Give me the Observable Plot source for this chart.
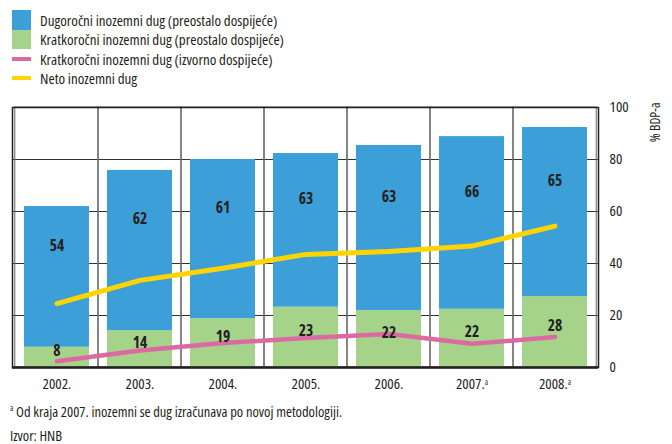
<!DOCTYPE html>
<html><head><meta charset="utf-8">
<script src="https://cdn.jsdelivr.net/npm/d3@7"></script>
<script src="https://cdn.jsdelivr.net/npm/@observablehq/plot@0.6"></script>
<style>
body{margin:0;background:#fff;}
#wrap{position:relative;width:672px;height:444px;overflow:hidden;font-family:"Open Sans",sans-serif;font-stretch:75%;color:#231f20;}
.legend{position:absolute;left:12px;top:10px;}
.row{display:flex;align-items:center;height:19.5px;font-size:15px;}
.sw{width:19px;height:19.5px;margin-right:9px;}
.ln{width:19px;height:4px;margin:0 9px 0 0;}
#plot{position:absolute;left:0;top:0;}
#plot svg text{font-stretch:75%;}
.note{position:absolute;left:10px;font-size:14.5px;}
.note sup{font-size:8px;vertical-align:6px;}
</style></head>
<body><div id="wrap">
<div class="legend" id="legend"></div>
<div id="plot"></div>
<div class="note" style="top:402px"><sup>a</sup> Od kraja 2007. inozemni se dug izračunava po novoj metodologiji.</div>
<div class="note" style="top:426px">Izvor: HNB</div>
</div>
<script>
const years = ["2002","2003","2004","2005","2006","2007","2008"];
const yearLabels = ["2002.","2003.","2004.","2005.","2006.","2007.","2008."];
const yearNotes = ["","","","","","a","a"];
// bar heights as drawn (% of GDP)
const shortTermRemaining = [7.8, 14.2, 18.8, 23.2, 21.9, 22.4, 27.3];
const longTermRemaining = [54.1, 61.6, 61.2, 59.1, 63.5, 66.4, 65.0];
// printed labels
const shortTermLabels = [8, 14, 19, 23, 22, 22, 28];
const longTermLabels = [54, 62, 61, 63, 63, 66, 65];
const shortTermOriginal = [2.4, 6.5, 9.4, 11.3, 12.9, 9.1, 11.7];
const netDebt = [24.6, 33.5, 38.2, 43.5, 44.6, 46.7, 54.4];
const yTicks = [0, 20, 40, 60, 80, 100];

const seriesNames = [
  "Dugoročni inozemni dug (preostalo dospijeće)",
  "Kratkoročni inozemni dug (preostalo dospijeće)",
  "Kratkoročni inozemni dug (izvorno dospijeće)",
  "Neto inozemni dug"
];
const colors = ["#3d9fd8", "#a5d38a", "#dc6aa2", "#ffd400"];

// legend
const lg = document.getElementById("legend");
seriesNames.forEach((n, i) => {
  const r = document.createElement("div"); r.className = "row";
  const s = document.createElement("div");
  s.className = i < 2 ? "sw" : "ln"; s.style.background = colors[i];
  r.appendChild(s);
  const t = document.createElement("span"); t.textContent = n; r.appendChild(t);
  lg.appendChild(r);
});

const table = [];
years.forEach((y, i) => table.push({year: y, series: "short", value: shortTermRemaining[i]}));
years.forEach((y, i) => table.push({year: y, series: "long", value: longTermRemaining[i]}));

const W = 672, mL = 12, mR = 74, mT = 107, mB = 33, H = 400;
const pi = 0.22;
const step = (W - mL - mR) / years.length;
const gap = step * pi / 2;

const chart = Plot.plot({
  width: W, height: H,
  marginLeft: mL, marginRight: mR, marginTop: mT, marginBottom: mB,
  style: {fontFamily: '"Open Sans",sans-serif', fontSize: "15px", color: "#231f20", background: "transparent"},
  x: {type: "band", domain: years, paddingInner: pi, paddingOuter: pi / 2, label: null},
  y: {domain: [0, 100], label: null},
  color: {domain: ["short", "long"], range: [colors[1], colors[0]]},
  marks: [
    Plot.gridY([20, 40, 60, 80], {stroke: "#333", strokeOpacity: 1, strokeWidth: 1}),
    Plot.barY(years, {x: d => d, y1: 0, y2: 100, fill: "none", stroke: "#666", strokeWidth: 1, insetLeft: -gap, insetRight: -gap}),
    Plot.barY(table, {x: "year", y: "value", fill: "series"}),
    Plot.lineY(years, {x: d => d, y: (d, i) => shortTermOriginal[i], stroke: colors[2], strokeWidth: 4.5}),
    Plot.lineY(years, {x: d => d, y: (d, i) => netDebt[i], stroke: colors[3], strokeWidth: 5}),
    Plot.text(years, {x: d => d, y: (d, i) => shortTermRemaining[i] + longTermRemaining[i] / 2, text: (d, i) => String(longTermLabels[i]), dy: -31, fontWeight: "bold", fontSize: 15.5, fill: "#231f20"}),
    Plot.text(years, {x: d => d, y: (d, i) => shortTermRemaining[i] / 2, text: (d, i) => String(shortTermLabels[i]), dy: -6, fontWeight: "bold", fontSize: 15.5, fill: "#231f20"}),
    Plot.frame({stroke: "#231f20", strokeWidth: 1.5}),
    Plot.ruleY([0], {stroke: "#231f20", strokeWidth: 2.5}),
    Plot.axisY(yTicks, {anchor: "right", tickSize: 0, tickPadding: 11, label: null, fontSize: 15, textAnchor: "start"}),
    Plot.axisX(years, {anchor: "bottom", tickSize: 0, tickPadding: 11, label: null, tickFormat: (d) => yearLabels[years.indexOf(d)] + (yearNotes[years.indexOf(d)] ? "|" + yearNotes[years.indexOf(d)] : ""), fontSize: 15}),
    Plot.text(["% BDP-a"], {frameAnchor: "top-right", text: d => d, rotate: -90, textAnchor: "end", dx: 52, dy: -5, fontSize: 13.5, fill: "#231f20"})
  ]
});
// superscript note markers on x tick labels
d3.select(chart).selectAll("text").each(function() {
  const t = this.textContent;
  if (t.includes("|")) {
    const [main, sup] = t.split("|");
    const el = d3.select(this);
    el.text(main);
    el.append("tspan").attr("dy", "-0.55em").attr("font-size", 8).text(sup);
  }
});
document.getElementById("plot").appendChild(chart);
</script>
</body></html>
